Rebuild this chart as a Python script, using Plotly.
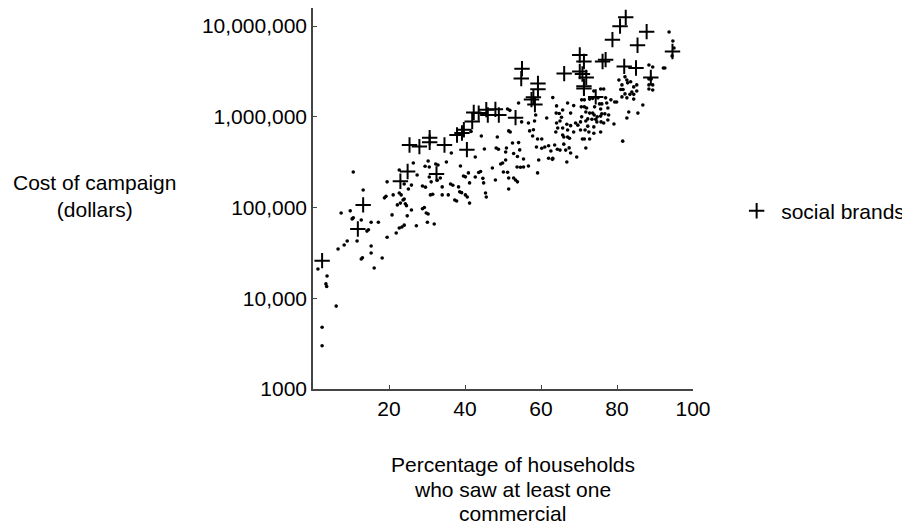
import plotly.graph_objects as go

# ---- data: other brands (dots) ----
other_pct = [1.3, 3.7, 3.4, 3.6, 6.1, 2.4, 2.4, 6.6, 8.2, 9.0, 7.4, 9.8, 10.3, 10.6, 10.6, 13.2, 12.7, 11.6,
             12.7, 13.0, 14.2, 14.6, 15.3, 15.3, 15.3, 16.1, 17.2, 18.2, 19.5, 18.8, 19.2, 20.8, 21.1, 19.5,
             21.9, 22.2, 23.0, 23.2, 22.7, 22.7, 22.7, 23.4, 23.7, 24.0, 24.3, 24.6, 24.8, 25.9, 24.0, 24.0,
             25.1, 25.9, 27.2, 28.8, 29.3, 29.8, 30.3, 30.9, 31.5, 31.9, 32.7, 34.0, 35.6, 36.2, 36.8, 37.3,
             37.8, 38.3, 38.6, 39.1, 40.1, 40.6, 41.2, 41.2, 44.9, 45.6, 48.0, 51.5, 53.3, 26.4, 27.4, 28.8,
             29.6, 30.3, 29.5, 30.6, 30.6, 31.1, 32.3, 32.9, 34.0, 35.1, 36.4, 38.8, 39.6, 40.1, 40.9, 42.7,
             43.6, 44.1, 44.3, 45.1, 45.4, 47.2, 48.2, 48.8, 48.5, 49.4, 49.9, 50.1, 50.7, 51.5, 51.5, 51.9,
             52.5, 52.8, 53.8, 53.7, 54.6, 53.8, 54.1, 51.2, 51.8, 30.1, 33.5, 41.6, 42.7, 44.7, 51.2, 52.8,
             55.4, 54.4, 54.1, 54.9, 56.7, 57.0, 58.0, 57.8, 59.1, 60.2, 56.7, 58.3, 58.6, 59.1, 59.4, 58.8,
             60.2, 61.0, 62.0, 63.0, 61.5, 63.1, 62.0, 62.6, 63.6, 64.3, 63.9, 64.4, 65.7, 65.7, 66.0, 65.0,
             66.5, 67.4, 64.1, 65.0, 64.0, 64.8, 65.4, 64.1, 65.7, 66.8, 67.0, 67.0, 67.5, 66.8, 67.0, 67.8,
             67.8, 68.6, 66.0, 68.6, 67.8, 69.4, 71.8, 70.9, 71.4, 70.4, 71.6, 69.7, 70.4, 71.8, 69.1, 70.7,
             70.6, 71.4, 70.7, 71.4, 72.8, 73.6, 73.9, 72.8, 73.6, 74.0, 72.3, 73.4, 74.4, 73.9, 72.3, 72.6,
             73.9, 72.8, 74.7, 75.8, 76.0, 76.8, 75.7, 75.4, 76.0, 75.0, 75.7, 76.5, 77.0, 77.3, 77.6, 78.4,
             77.8, 77.6, 76.5, 79.4, 79.9, 79.2, 75.7, 74.8, 75.7, 71.8, 72.0, 74.1, 81.5, 82.6, 83.1, 81.3,
             81.0, 81.6, 82.1, 82.6, 82.8, 83.4, 84.4, 83.6, 84.4, 84.4, 83.9, 85.2, 85.2, 86.8, 85.5, 82.6,
             81.3, 82.1, 80.5, 88.4, 89.0, 88.4, 89.4, 89.4, 88.4, 88.4, 89.4, 92.2, 92.6, 93.7, 94.7, 94.5,
             95.0, 50.7, 50.9, 55.4, 63.1]
other_cost = [21000, 17600, 14400, 13500, 8200, 4800, 3000, 35000, 38700, 42800, 87000, 92000, 75000, 77000,
              247000, 156000, 73000, 42800, 27100, 28000, 55000, 57000, 69000, 37700, 31600, 21600, 69000,
              27800, 47000, 128000, 133000, 83000, 138000, 192000, 52500, 107000, 112000, 138000, 145000,
              260000, 59500, 61000, 121000, 64000, 110000, 105000, 81000, 94000, 182000, 124000, 160000,
              177000, 63000, 97000, 100000, 87000, 85000, 138000, 140000, 66000, 200000, 169000, 138000,
              182000, 176000, 121000, 118000, 169000, 149000, 146000, 138000, 131000, 112000, 187000, 187000,
              131000, 201000, 160000, 201000, 310000, 229000, 173000, 168000, 326000, 285000, 280000, 217000,
              192000, 302000, 295000, 138000, 318000, 400000, 287000, 223000, 218000, 241000, 361000, 244000,
              250000, 615000, 443000, 145000, 273000, 454000, 440000, 600000, 302000, 310000, 247000, 335000,
              212000, 700000, 680000, 515000, 395000, 365000, 280000, 278000, 192000, 1420000, 1220000,
              1180000, 69000, 212000, 690000, 217000, 210000, 245000, 212000, 343000, 432000, 520000, 880000,
              287000, 700000, 720000, 615000, 570000, 570000, 857000, 900000, 1050000, 241000, 335000, 466000,
              450000, 466000, 350000, 340000, 970000, 1630000, 480000, 420000, 490000, 440000, 680000, 755000,
              755000, 631000, 600000, 430000, 430000, 455000, 857000, 900000, 1100000, 1090000, 990000,
              1320000, 1190000, 318000, 1420000, 600000, 580000, 830000, 715000, 800000, 1100000, 1330000,
              500000, 680000, 400000, 361000, 454000, 570000, 570000, 715000, 715000, 810000, 880000, 900000,
              857000, 1000000, 1290000, 1290000, 1540000, 1540000, 1570000, 1600000, 1930000, 1100000,
              1100000, 1050000, 950000, 940000, 940000, 775000, 790000, 680000, 660000, 570000, 880000,
              880000, 1080000, 1080000, 1220000, 1390000, 1390000, 1620000, 2030000, 2030000, 1620000,
              1420000, 1250000, 1540000, 1050000, 925000, 857000, 1460000, 1460000, 835000, 680000, 1000000,
              1020000, 1130000, 1250000, 1290000, 540000, 970000, 1130000, 1660000, 2000000, 2000000, 1790000,
              1620000, 2370000, 1770000, 1770000, 2440000, 2140000, 1570000, 1880000, 2250000, 1930000,
              1350000, 1100000, 2550000, 2250000, 2760000, 2550000, 2620000, 2620000, 2250000, 1980000,
              2250000, 2030000, 3730000, 3550000, 3460000, 3460000, 8630000, 6860000, 4700000, 5750000,
              410000, 454000, 280000, 350000]

# ---- data: social brands (crosses) ----
social_pct = [2.4, 13.2, 11.8, 23.0, 24.9, 25.4, 28.0, 30.7, 30.7, 32.5, 34.6, 37.9, 39.2, 39.7, 40.5, 41.9,
              42.3, 43.6, 45.6, 46.0, 48.0, 48.9, 53.3, 55.0, 54.8, 59.2, 59.2, 58.0, 57.5, 58.4, 66.1, 70.2,
              71.3, 70.2, 70.9, 71.9, 71.3, 71.3, 74.4, 76.2, 77.0, 78.8, 80.8, 82.3, 85.4, 87.8, 81.9, 85.0,
              88.9, 94.6]
social_cost = [26000, 107000, 58000, 195000, 250000, 490000, 470000, 525000, 590000, 235000, 490000, 630000,
               665000, 720000, 435000, 890000, 1120000, 1100000, 1200000, 1050000, 1210000, 1050000, 980000,
               3400000, 2640000, 2330000, 2010000, 1650000, 1550000, 1370000, 3000000, 4800000, 4070000,
               3160000, 2970000, 2720000, 2180000, 2060000, 1660000, 4070000, 4270000, 7100000, 10000000,
               12500000, 6150000, 8700000, 3600000, 3460000, 2720000, 5250000]

x_ticks = [20, 40, 60, 80, 100]
y_ticks = [1000, 10000, 100000, 1000000, 10000000]
y_tick_labels = ["1000", "10,000", "100,000", "1,000,000", "10,000,000"]
legend_label = "social brands"
y_title = "Cost of campaign<br>(dollars)"
x_title_lines = ["Percentage of households", "who saw at least one", "commercial"]

FONT = "Liberation Sans, Arial, sans-serif"
FS = 21

fig = go.Figure()
fig.add_trace(go.Scatter(x=other_pct, y=other_cost, mode="markers", showlegend=False,
                         marker=dict(symbol="circle", size=3.6, color="black")))
fig.add_trace(go.Scatter(x=social_pct, y=social_cost, mode="markers", name=legend_label,
                         marker=dict(symbol="cross-thin", size=11, color="black",
                                     line=dict(width=2, color="black"))))

annotations = [dict(text=y_title, xref="paper", yref="paper", x=-0.574, y=0.507,
                    xanchor="center", yanchor="middle", showarrow=False,
                    font=dict(family=FONT, size=FS, color="black"))]
for line, yy in zip(x_title_lines, [-0.197, -0.2625, -0.328]):
    annotations.append(dict(text=line, xref="paper", yref="paper", x=0.526, y=yy,
                            xanchor="center", yanchor="middle", showarrow=False,
                            font=dict(family=FONT, size=FS, color="black")))

fig.update_layout(
    width=910, height=517,
    margin=dict(l=305, r=225, t=0, b=136),
    paper_bgcolor="white", plot_bgcolor="white",
    font=dict(family=FONT, size=FS, color="black"),
    showlegend=True,
    legend=dict(x=1.103, y=0.467, xanchor="left", yanchor="middle", itemwidth=39,
                font=dict(family=FONT, size=FS, color="black"), bgcolor="rgba(0,0,0,0)"),
    annotations=annotations,
    xaxis=dict(range=[0, 100], tickvals=x_ticks, ticks="inside", ticklen=4, tickwidth=1,
               tickcolor="#444", showline=True, linecolor="#444", linewidth=1.5,
               showgrid=False, zeroline=False, tickfont=dict(family=FONT, size=FS, color="black")),
    yaxis=dict(type="log", range=[3, 7.2], tickvals=y_ticks, ticktext=y_tick_labels,
               ticks="inside", ticklen=4, tickwidth=1, tickcolor="#444", showline=True,
               linecolor="#444", linewidth=1.5, showgrid=False, zeroline=False,
               tickfont=dict(family=FONT, size=FS, color="black")),
)

fig.write_html("out.html")
